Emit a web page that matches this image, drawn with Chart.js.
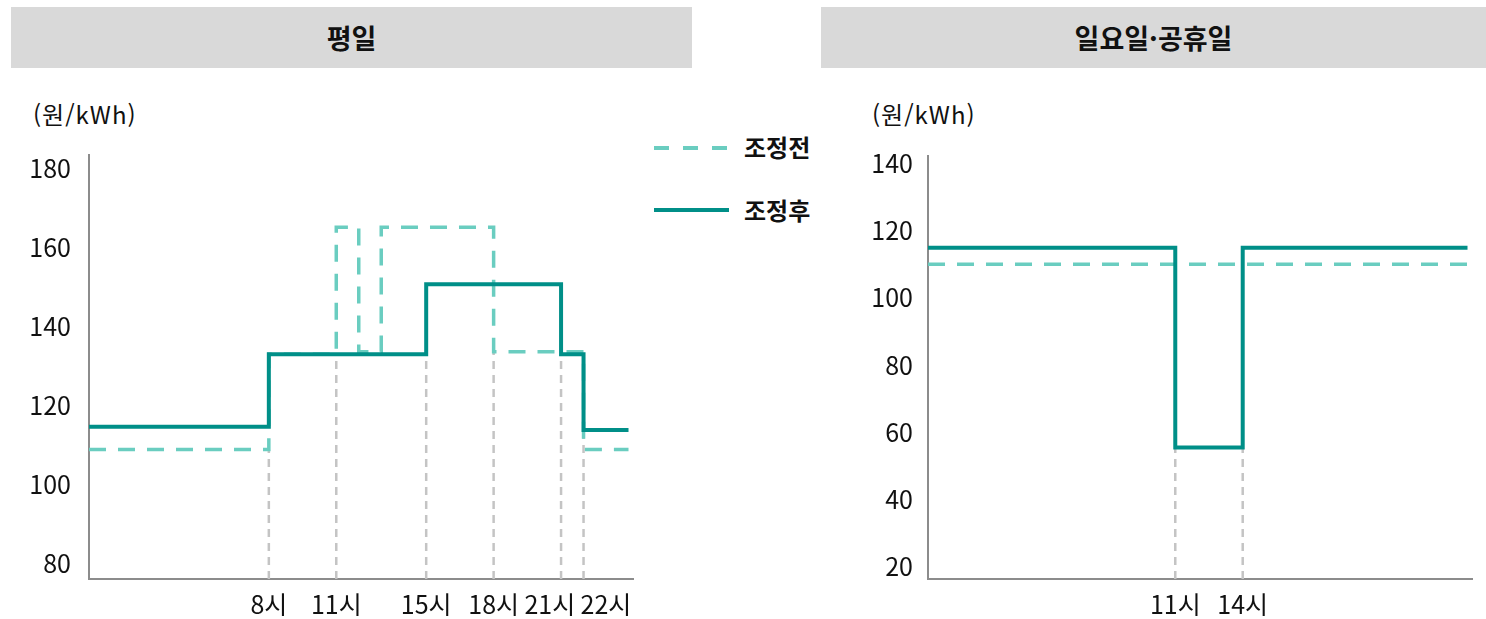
<!DOCTYPE html>
<html lang="ko">
<head>
<meta charset="utf-8">
<title>시간대별 요금 조정</title>
<script src="https://cdn.jsdelivr.net/npm/chart.js@4.4.1/dist/chart.umd.min.js"></script>
<style>
  html, body { margin: 0; padding: 0; background: #fff; }
  body {
    width: 1486px; height: 619px; position: relative; overflow: hidden;
    font-family: "Noto Sans CJK KR", "Noto Sans", sans-serif; color: #111;
  }
  .bar {
    position: absolute; top: 7px; height: 61px; background: #d9d9d9;
    display: flex; align-items: center; justify-content: center;
    font-weight: 700; font-size: 27px;
  }
  .unit { position: absolute; top: 99px; font-size: 24px; line-height: 30px; letter-spacing: 1px; }
  .lg-text { position: absolute; left: 744px; font-size: 24px; font-weight: 700; line-height: 30px; }
  canvas { position: absolute; }
  svg { position: absolute; }
</style>
</head>
<body>
<div class="bar" style="left:11px;width:681px;">평일</div>
<div class="bar" style="left:821px;width:665px;">일요일·공휴일</div>
<div class="unit" style="left:33px;">(원/kWh)</div>
<div class="unit" style="left:872px;">(원/kWh)</div>

<svg style="left:654px;top:140px;" width="76" height="80">
  <line x1="0" y1="8" x2="74" y2="8" stroke="#6acdc0" stroke-width="4" stroke-dasharray="15 14"/>
  <line x1="0" y1="70" x2="75" y2="70" stroke="#008f88" stroke-width="4"/>
</svg>
<div class="lg-text" style="top:132px;">조정전</div>
<div class="lg-text" style="top:195px;">조정후</div>

<canvas id="weekday" width="650" height="479" style="left:0;top:140px;"></canvas>
<canvas id="holiday" width="646" height="479" style="left:840px;top:140px;"></canvas>

<script>
// 평일: 시간대별 요금 (원/kWh)
const weekdayAfterHours  = [0, 8, 15, 21, 22, 24];
const weekdayAfter       = [114.6, 133.0, 150.7, 133.0, 113.8, 113.8];
const weekdayBeforeHours = [0, 8, 11, 12, 13, 18, 22, 24];
const weekdayBefore      = [108.9, 133.0, 165.1, 133.6, 165.1, 133.6, 108.9, 108.9];
const weekdayTickHours   = [8, 11, 15, 18, 21, 22];
const weekdayGuideTops   = [108.9, 133.0, 133.0, 133.6, 133.0, 113.8];
const weekdayYTicks      = [80, 100, 120, 140, 160, 180];

// 일요일·공휴일
const holidayAfterHours  = [0, 11, 14, 24];
const holidayAfter       = [114.9, 55.5, 114.9, 114.9];
const holidayBeforeHours = [0, 24];
const holidayBefore      = [110.0, 110.0];
const holidayTickHours   = [11, 14];
const holidayGuideTops   = [55.5, 55.5];
const holidayYTicks      = [20, 40, 60, 80, 100, 120, 140];

// 붙어 있는 시각 라벨은 서로 겹치지 않게 옆으로 벌려 쓴다
const labelPadRight = { 21: 4 };
const labelPadLeft  = { 22: 8 };

const SOLID = '#008f88';
const DASHED = '#6acdc0';
const GUIDE = '#c4c4c4';
const AXIS = '#8c8c8c';
const FONT = '"Noto Sans CJK KR", "Noto Sans", sans-serif';

function points(xs, ys) {
  return xs.map((x, i) => ({ x: x, y: ys[i] }));
}

function guidePoints(hours, tops, base) {
  const out = [];
  hours.forEach((h, i) => {
    out.push({ x: h, y: base }, { x: h, y: tops[i] }, { x: h, y: null });
  });
  return out;
}

function hourLabel(v) {
  const l = ' '.repeat(labelPadLeft[v] || 0);
  const r = ' '.repeat(labelPadRight[v] || 0);
  return l + v + '시' + r;
}

function buildChart(id, o) {
  return new Chart(document.getElementById(id), {
    type: 'line',
    data: {
      datasets: [
        {
          label: '조정후',
          data: points(o.afterHours, o.after),
          stepped: 'before',
          borderColor: SOLID,
          borderWidth: 4,
          borderJoinStyle: 'miter',
          pointRadius: 0,
          order: 0
        },
        {
          label: '조정전',
          data: points(o.beforeHours, o.before),
          stepped: 'before',
          borderColor: DASHED,
          borderWidth: 3.5,
          borderDash: [17, 12],
          borderJoinStyle: 'miter',
          pointRadius: 0,
          order: 1
        },
        {
          label: 'guide',
          data: guidePoints(o.tickHours, o.guideTops, o.yMin),
          borderColor: GUIDE,
          borderWidth: 2.5,
          borderDash: [8, 6],
          spanGaps: false,
          pointRadius: 0,
          order: 2
        }
      ]
    },
    options: {
      responsive: false,
      animation: false,
      devicePixelRatio: 1,
      layout: { padding: { top: o.padTop, right: o.padRight, left: 0, bottom: 0 } },
      plugins: { legend: { display: false }, tooltip: { enabled: false } },
      events: [],
      scales: {
        x: {
          type: 'linear',
          min: 0,
          max: 24.2,
          grid: { display: false, drawTicks: false },
          border: { display: true, color: AXIS, width: 2 },
          afterBuildTicks: s => { s.ticks = o.tickHours.map(v => ({ value: v })); },
          ticks: {
            autoSkip: false,
            maxRotation: 0,
            padding: 10,
            color: '#111',
            font: { family: FONT, size: 25 },
            callback: v => hourLabel(v)
          },
          afterFit: s => {
            s.height = 40;
            s.paddingLeft = 0; s.paddingRight = 0;
          }
        },
        y: {
          type: 'linear',
          min: o.yMin,
          max: o.yMax,
          grid: { display: false, drawTicks: false },
          border: { display: true, color: AXIS, width: 2 },
          afterBuildTicks: s => { s.ticks = o.yTicks.map(v => ({ value: v })); },
          ticks: {
            padding: o.yPad,
            color: '#111',
            font: { family: FONT, size: 25 },
            callback: v => String(v)
          },
          afterFit: s => {
            s.width = o.yWidth;
            s.paddingTop = 0; s.paddingBottom = 0;
          }
        }
      }
    }
  });
}

function draw() {
  buildChart('weekday', {
    afterHours: weekdayAfterHours, after: weekdayAfter,
    beforeHours: weekdayBeforeHours, before: weekdayBefore,
    tickHours: weekdayTickHours, guideTops: weekdayGuideTops, yTicks: weekdayYTicks,
    yMin: 76.1, yMax: 183.4, yWidth: 89, yPad: 18, padTop: 15, padRight: 17
  });
  buildChart('holiday', {
    afterHours: holidayAfterHours, after: holidayAfter,
    beforeHours: holidayBeforeHours, before: holidayBefore,
    tickHours: holidayTickHours, guideTops: holidayGuideTops, yTicks: holidayYTicks,
    yMin: 16.4, yMax: 142.2, yWidth: 88, yPad: 15, padTop: 16, padRight: 14
  });
}

if (document.fonts && document.fonts.load) {
  Promise.all([
    document.fonts.load('25px "Noto Sans CJK KR"'),
    document.fonts.load('bold 25px "Noto Sans CJK KR"')
  ]).then(draw, draw);
} else {
  draw();
}
</script>
</body>
</html>
